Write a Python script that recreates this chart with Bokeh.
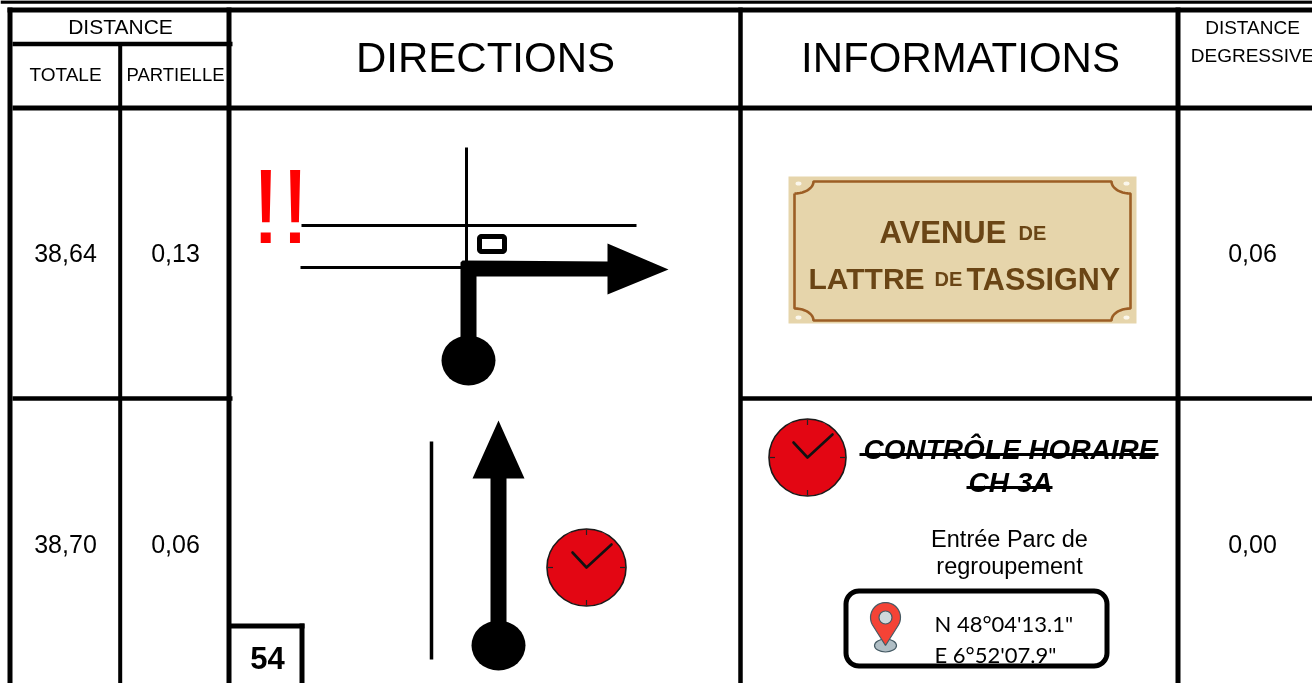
import numpy as np
from bokeh.plotting import figure
from bokeh.embed import file_html
from bokeh.resources import INLINE
from bokeh.core.properties import value

W, H = 1312, 683
ARIAL = "Liberation Sans"
CALIBRI = "Lato"
BLACK = "#000000"
RED_CLOCK = "#E30613"
SIGN_BG = "#E6D5AB"
SIGN_LINE = "#9C5E25"
SIGN_TEXT = "#6A4515"

# table content
header_labels = ["DISTANCE", "TOTALE", "PARTIELLE", "DIRECTIONS", "INFORMATIONS", "DISTANCE", "DEGRESSIVE"]
header_x = [120, 65, 175, 485, 960, 1252, 1252]
header_y = [26, 74, 74, 57, 57, 27, 55]
header_size = [21, 19, 18.5, 42, 42, 19, 19]

total_km = ["38,64", "38,70"]
partial_km = ["0,13", "0,06"]
remaining_km = ["0,06", "0,00"]
row_y = [252, 543]
col_total_x, col_partial_x, col_remaining_x = 65, 175, 1252

# rules: x0, x1, y0, y1, width
hrule = [(0, 1312, 1.5, 3.5), (7, 1312, 9.5, 5), (12, 232, 43.5, 4.5), (12, 1312, 107.5, 5),
         (12, 232, 398, 4.5), (740, 1312, 398, 4.5)]
vrule = [(9.5, 7, 683, 5), (119.7, 44, 683, 4), (228.5, 7, 683, 5), (740, 7, 683, 4.5), (1177.5, 7, 683, 5)]

p = figure(width=W, height=H, x_range=(0, W), y_range=(H, 0), output_backend="svg",
           toolbar_location=None, min_border=0, outline_line_color=None,
           background_fill_color="white", border_fill_color="white", x_axis_location=None, y_axis_location=None)
p.grid.visible = False
p.styles = {"position": "fixed", "left": "0px", "top": "0px"}


def seg(xs, ys, w, color=BLACK, cap="butt"):
    p.line(xs, ys, line_width=w, line_color=color, line_cap=cap, line_join="miter")


def label(x, y, s, size, color=BLACK, font=ARIAL, style="normal", align="left", base="alphabetic"):
    p.text([x], [y], text=[s], text_font=value(font), text_font_size=f"{size}px", text_font_style=style,
           text_color=color, text_align=align, text_baseline=base)


def round_box(x0, x1, y0, y1, r, n=10):
    t = np.linspace(0, np.pi / 2, n)
    xs = np.concatenate([x1 - r + r * np.sin(t), x1 - r + r * np.cos(t), x0 + r - r * np.sin(t), x0 + r - r * np.cos(t)])
    ys = np.concatenate([y0 + r - r * np.cos(t), y1 - r + r * np.sin(t), y1 - r + r * np.cos(t), y0 + r - r * np.sin(t)])
    return xs, ys


def clock(cx, cy, rx, ry, hour, minute):
    p.ellipse([cx], [cy], width=[2 * rx], height=[2 * ry], fill_color=RED_CLOCK, line_color="#1a1a1a", line_width=1.6)
    for dx, dy in [(0, -1), (0, 1), (-1, 0), (1, 0)]:
        seg([cx + dx * (rx - 6), cx + dx * (rx - 1)], [cy + dy * (ry - 6), cy + dy * (ry - 1)], 1.2, "#222222")
    p.line([cx + hour[0], cx, cx + minute[0]], [cy + hour[1], cy, cy + minute[1]], line_width=2.6,
           line_color="#111111", line_join="round", line_cap="round")


# ---- table rules
for x0, x1, y, w in hrule:
    seg([x0, x1], [y, y], w)
for x, y0, y1, w in vrule:
    seg([x, x], [y0, y1], w)

# ---- texts of the table
for s, x, y, size in zip(header_labels, header_x, header_y, header_size):
    label(x, y, s, size, align="center", base="middle")
for i, y in enumerate(row_y):
    label(col_total_x, y, total_km[i], 25, align="center", base="middle")
    label(col_partial_x, y, partial_km[i], 25, align="center", base="middle")
    label(col_remaining_x, y, remaining_km[i], 25, align="center", base="middle")

# ---- first direction: crossing and turn
label(280, 206, "!!", 105, color="#FF0000", align="center")
seg([466, 466], [147, 262], 3)
seg([301, 636], [225, 225], 3)
seg([300, 462], [267, 267], 3)
xs, ys = round_box(479, 504, 236, 251, 2)
p.patch(xs, ys, fill_color=None, line_color=BLACK, line_width=5)
p.patch([460, 462, 607, 607, 668, 607, 607, 476, 476, 460], [262, 260, 261, 243, 269, 294, 276, 276, 360, 360],
        fill_color=BLACK, line_color=None)
p.ellipse([468], [360], width=[54], height=[50], fill_color=BLACK, line_color=None)

# ---- street sign
p.quad(left=[788], right=[1136], top=[176], bottom=[323], fill_color=SIGN_BG, line_color=None)
sx0, sx1, sy0, sy1, crx, cry = 794, 1130, 181, 320, 19, 12
t = np.linspace(0, np.pi / 2, 12)
bx = np.concatenate([sx0 + crx * np.sin(t), sx1 - crx * np.cos(t), sx1 - crx * np.sin(t)[::-1] * 0 - 0 * t + 0,
                     ])
# four concave corners, clockwise from the top-left
tl = (sx0 + crx * np.sin(t), sy0 + cry * np.cos(t))
tr = (sx1 - crx * np.cos(t), sy0 + cry * np.sin(t))
br = (sx1 - crx * np.sin(t), sy1 - cry * np.cos(t))
bl = (sx0 + crx * np.cos(t), sy1 - cry * np.sin(t))
bx = np.concatenate([tl[0], tr[0], br[0], bl[0], tl[0][:1]])
by = np.concatenate([tl[1], tr[1], br[1], bl[1], tl[1][:1]])
p.line(bx, by, line_color=SIGN_LINE, line_width=2.6)
p.ellipse([798, 1126, 798, 1126], [183, 183, 317, 317], width=6, height=4, fill_color="#FBF7EC", line_color=None)
sign_words = ["AVENUE", "DE", "LATTRE", "DE", "TASSIGNY"]
sign_x = [879, 1018, 808, 934, 966]
sign_y = [232, 232, 278, 278, 278]
sign_size = [31, 20, 30, 20, 30.5]
for s, x, y, size in zip(sign_words, sign_x, sign_y, sign_size):
    label(x, y, s, size, color=SIGN_TEXT, style="bold")

# ---- second direction
seg([431, 431], [441, 659], 3.5)
p.patch([490, 490, 472, 498, 524, 506, 506], [645, 478, 478, 420, 478, 478, 645], fill_color=BLACK, line_color=None)
p.ellipse([498], [645], width=[54], height=[50], fill_color=BLACK, line_color=None)
clock(586, 567, 39.5, 38.5, (-14, -15), (25, -23))

# ---- page number box
seg([229, 304], [625.5, 625.5], 5)
seg([301.5, 301.5], [623, 683], 5)
label(267, 657, "54", 31, style="bold", align="center")

# ---- time control
clock(807, 457, 38.5, 38.5, (-14, -15), (25, -23))
label(1010, 449, "CONTRÔLE HORAIRE", 28, style="bold italic", align="center")
label(1010, 482, "CH 3A", 28, style="bold italic", align="center")
seg([859, 1158], [454, 454], 3)
seg([966, 1052], [487, 487], 3)
label(1009, 538, "Entrée Parc de", 23.5, align="center")
label(1009, 565, "regroupement", 23.5, align="center")

# ---- coordinates box
xs, ys = round_box(845.5, 1106.5, 590.5, 665.5, 13)
p.patch(xs, ys, fill_color="white", line_color=BLACK, line_width=5)
a = np.linspace(np.radians(-210), np.radians(30), 30)
pin_x = np.concatenate([885 + 15 * np.cos(a), [885]])
pin_y = np.concatenate([617 + 15 * np.sin(a), [645]])
p.ellipse([885], [645], width=[22], height=[13], fill_color="#B0BEC5", line_color="#455A64", line_width=1.2)
p.patch(pin_x, pin_y, fill_color="#F44336", line_color="#455A64", line_width=1.2)
p.ellipse([885], [617], width=[13], height=[13], fill_color="#CFD8DC", line_color="#455A64", line_width=1.2)
label(934, 623, "N 48°04'13.1\"", 22, font=CALIBRI)
label(934, 654, "E 6°52'07.9\"", 22, font=CALIBRI)

open("out.html", "w").write(file_html(p, INLINE))
